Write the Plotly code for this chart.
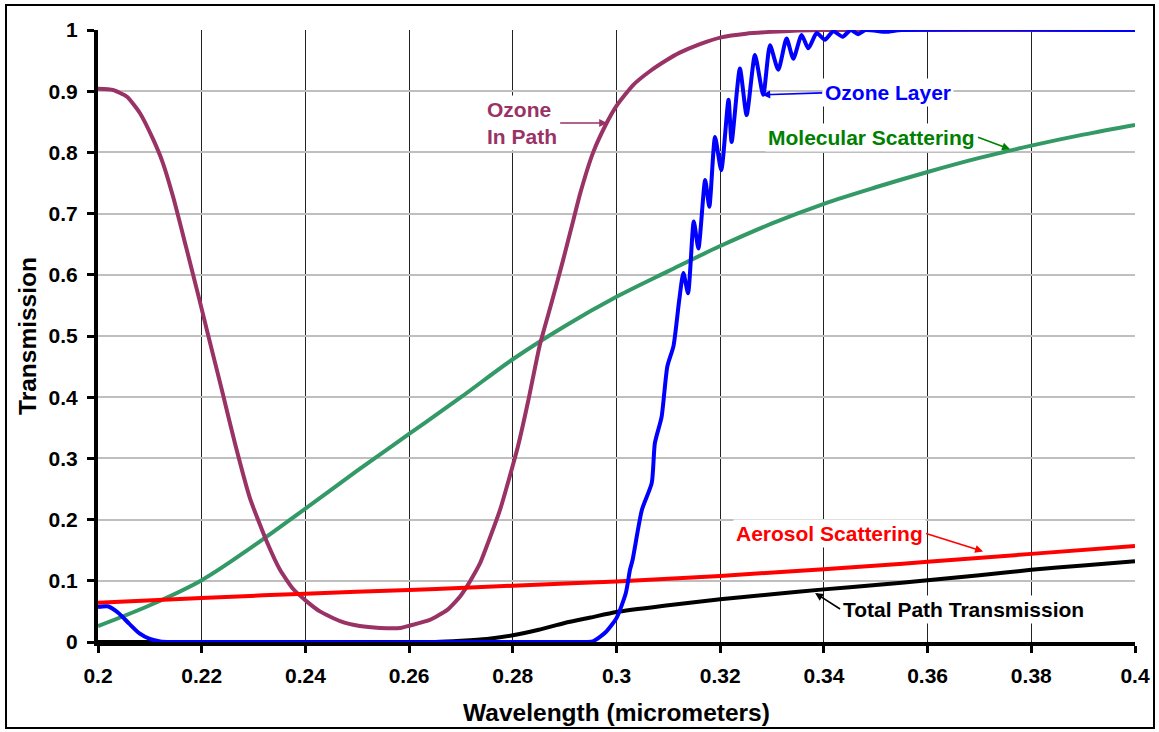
import plotly.graph_objects as go

# ---------------- data ----------------
ozone_path_x = [0.2000, 0.2029, 0.2056, 0.2081, 0.2106, 0.2125, 0.2145, 0.2170, 0.2193, 0.2212,
                0.2240, 0.2264, 0.2293, 0.2325, 0.2351, 0.2376, 0.2403, 0.2428, 0.2467, 0.2505,
                0.2544, 0.2583, 0.2602, 0.2640, 0.2673, 0.2698, 0.2711, 0.2727, 0.2737, 0.2775,
                0.2810, 0.2830, 0.2852, 0.2875, 0.2897, 0.2917, 0.2930, 0.2955, 0.2981, 0.3000,
                0.3032, 0.3065, 0.3097, 0.3122, 0.3161, 0.3202, 0.3250, 0.3300, 0.3350, 0.3400,
                0.4000]
ozone_path_y = [0.904, 0.902, 0.891, 0.864, 0.822, 0.783, 0.727, 0.645, 0.568, 0.503,
                0.408, 0.325, 0.235, 0.165, 0.118, 0.087, 0.066, 0.050, 0.034, 0.026,
                0.023, 0.023, 0.027, 0.036, 0.052, 0.074, 0.090, 0.113, 0.129, 0.215,
                0.320, 0.395, 0.485, 0.555, 0.624, 0.690, 0.733, 0.800, 0.848, 0.876,
                0.910, 0.933, 0.951, 0.963, 0.977, 0.988, 0.994, 0.997, 0.999, 1.000,
                1.000]

molecular_x = [0.20, 0.21, 0.22, 0.23, 0.24, 0.25, 0.26, 0.27, 0.28, 0.29, 0.30,
               0.31, 0.32, 0.33, 0.34, 0.35, 0.36, 0.37, 0.38, 0.39, 0.40]
molecular_y = [0.026, 0.060, 0.101, 0.157, 0.218, 0.280, 0.340, 0.400, 0.462, 0.516, 0.564,
               0.606, 0.647, 0.684, 0.716, 0.743, 0.768, 0.791, 0.811, 0.829, 0.845]

aerosol_x = [0.20, 0.22, 0.24, 0.26, 0.28, 0.30, 0.32, 0.34, 0.36, 0.38, 0.40]
aerosol_y = [0.064, 0.072, 0.079, 0.085, 0.092, 0.099, 0.108, 0.119, 0.131, 0.144, 0.157]

total_x = [0.200, 0.255, 0.265, 0.270, 0.275, 0.280, 0.285, 0.290, 0.295, 0.300, 0.310,
           0.320, 0.330, 0.340, 0.350, 0.360, 0.370, 0.380, 0.390, 0.400]
total_y = [0.000, 0.000, 0.000, 0.002, 0.005, 0.011, 0.020, 0.031, 0.040, 0.049, 0.060,
           0.070, 0.078, 0.086, 0.093, 0.101, 0.109, 0.118, 0.125, 0.132]

ozone_layer_x = [0.200, 0.202, 0.204, 0.206, 0.208, 0.210, 0.212, 0.214, 0.2165, 0.2930,
                 0.2954, 0.2979,
                 0.3000, 0.3018, 0.3026, 0.3031, 0.3049, 0.3068, 0.3074, 0.3087, 0.3098,
                 0.3110, 0.3121, 0.3129, 0.3138, 0.3149, 0.3158, 0.3171, 0.3179, 0.3190,
                 0.3202, 0.3216, 0.3222, 0.3238, 0.3251, 0.3267, 0.3283, 0.3296, 0.3312,
                 0.3328, 0.3341, 0.3357, 0.3370, 0.3386, 0.3402, 0.3418, 0.3436, 0.3452,
                 0.3466, 0.3480, 0.3520, 0.3550, 0.4000]
ozone_layer_y = [0.057, 0.058, 0.047, 0.030, 0.014, 0.005, 0.001, 0.000, 0.000, 0.000,
                 0.001, 0.016,
                 0.039, 0.080, 0.118, 0.134, 0.216, 0.260, 0.325, 0.368, 0.450,
                 0.484, 0.559, 0.603, 0.570, 0.687, 0.643, 0.755, 0.711, 0.825,
                 0.771, 0.886, 0.817, 0.937, 0.861, 0.959, 0.894, 0.975, 0.935,
                 0.986, 0.953, 0.992, 0.970, 0.995, 0.984, 0.998, 0.989, 1.000,
                 0.993, 1.000, 0.997, 1.000, 1.000]

x_ticks = [0.2, 0.22, 0.24, 0.26, 0.28, 0.3, 0.32, 0.34, 0.36, 0.38, 0.4]
x_tick_labels = ["0.2", "0.22", "0.24", "0.26", "0.28", "0.3", "0.32", "0.34", "0.36", "0.38", "0.4"]
y_ticks = [0, 0.1, 0.2, 0.3, 0.4, 0.5, 0.6, 0.7, 0.8, 0.9, 1]
y_tick_labels = ["0", "0.1", "0.2", "0.3", "0.4", "0.5", "0.6", "0.7", "0.8", "0.9", "1"]

FONT = "Liberation Sans, Arial, sans-serif"

fig = go.Figure()
fig.add_trace(go.Scatter(x=molecular_x, y=molecular_y, mode="lines", name="Molecular Scattering",
                         line=dict(color="#339966", width=4, shape="spline")))
fig.add_trace(go.Scatter(x=ozone_path_x, y=ozone_path_y, mode="lines", name="Ozone In Path",
                         line=dict(color="#993366", width=4, shape="spline", smoothing=0.5)))
fig.add_trace(go.Scatter(x=aerosol_x, y=aerosol_y, mode="lines", name="Aerosol Scattering",
                         line=dict(color="#FF0000", width=4, shape="spline")))
fig.add_trace(go.Scatter(x=total_x, y=total_y, mode="lines", name="Total Path Transmission",
                         line=dict(color="#000000", width=4, shape="spline", smoothing=0.6)))
fig.add_trace(go.Scatter(x=ozone_layer_x, y=ozone_layer_y, mode="lines", name="Ozone Layer",
                         line=dict(color="#0000FF", width=4, shape="spline", smoothing=0.6)))

def ann(text, x, y, ax, ay, color, xanchor, align="left"):
    return dict(x=x, y=y, xref="x", yref="y", ax=ax, ay=ay, axref="pixel", ayref="pixel",
                text=text, showarrow=True, arrowhead=2, arrowsize=1, arrowwidth=1.6,
                arrowcolor=color, xanchor=xanchor, yanchor="middle", align=align,
                bgcolor="white", borderpad=2,
                font=dict(family=FONT, size=21, color=color, weight="bold"))

fig.update_layout(
    width=1159, height=732,
    margin=dict(l=98, r=24, t=30, b=90),
    paper_bgcolor="white", plot_bgcolor="white",
    showlegend=False,
    font=dict(family=FONT, size=21, color="black"),
    xaxis=dict(range=[0.2, 0.4], tickvals=x_ticks, ticktext=x_tick_labels,
               automargin=False,
               showgrid=True, gridcolor="#222222", gridwidth=1,
               showline=True, linecolor="black", linewidth=4,
               ticks="outside", ticklen=7, tickwidth=3, tickcolor="black",
               ticklabelstandoff=5,
               tickfont=dict(family=FONT, size=21, color="black", weight="bold"),
               zeroline=False,
               title=dict(text="Wavelength (micrometers)", standoff=19,
                          font=dict(family=FONT, size=24.5, color="black", weight="bold"))),
    yaxis=dict(range=[0, 1], tickvals=y_ticks, ticktext=y_tick_labels,
               automargin=False,
               showgrid=True, gridcolor="#BFBFBF", gridwidth=2,
               showline=True, linecolor="black", linewidth=4,
               ticks="outside", ticklen=7, tickwidth=3, tickcolor="black",
               ticklabelstandoff=5,
               tickfont=dict(family=FONT, size=21, color="black", weight="bold"),
               zeroline=False,
               title=dict(text="Transmission", standoff=6,
                          font=dict(family=FONT, size=24.5, color="black", weight="bold"))),
    annotations=[
        ann("Ozone<br>In Path", 0.2982, 0.848, -47, 0, "#993366", "right"),
        ann("Ozone Layer", 0.3281, 0.894, 60, -2, "#0000FF", "left"),
        ann("Molecular Scattering", 0.3759, 0.805, -32, -12, "#008000", "right"),
        ann("Aerosol Scattering", 0.3707, 0.148, -57, -18, "#FF0000", "right"),
        ann("Total Path Transmission", 0.3383, 0.080, 25, 16, "#000000", "left"),
    ],
    shapes=[dict(type="rect", xref="paper", yref="paper",
                 x0=(6 - 98) / 1037, x1=(1154 - 98) / 1037,
                 y0=(642 - 728) / 612, y1=(642 - 5) / 612,
                 line=dict(color="black", width=2), fillcolor="rgba(0,0,0,0)", layer="below")],
)

fig.write_html("out.html", config={"displayModeBar": False},
               post_script="document.body.style.margin='0px';document.body.style.overflow='hidden';")
